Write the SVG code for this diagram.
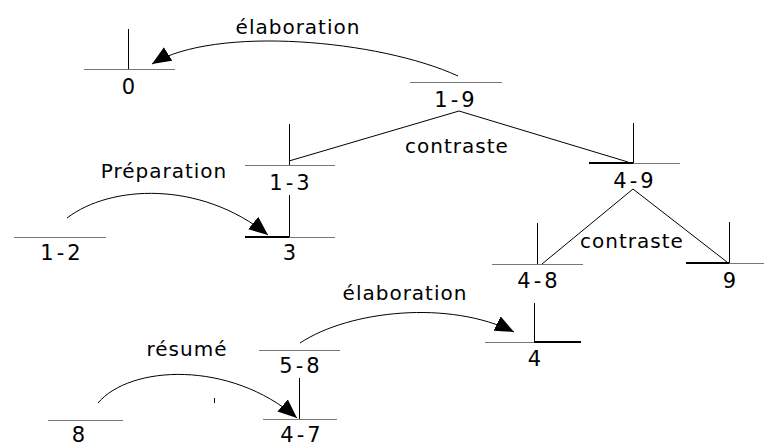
<svg xmlns="http://www.w3.org/2000/svg" width="764" height="443" viewBox="0 0 764 443">
<style>
text{font-family:"DejaVu Sans","Liberation Sans",sans-serif;font-size:20px;fill:#000;text-anchor:middle;letter-spacing:1px}
text.num{font-size:21px;letter-spacing:3px}
.h{stroke:#777;stroke-width:1.2;fill:none}
.hb{stroke:#000;stroke-width:2;fill:none}
.v{stroke:#000;stroke-width:1;fill:none}
.link{stroke:#000;stroke-width:1;fill:none}
.arc{stroke:#000;stroke-width:1;fill:none;marker-end:url(#ah)}
</style>
<defs>
<marker id="ah" viewBox="0 0 19 16" refX="19" refY="8" markerWidth="19" markerHeight="16" markerUnits="userSpaceOnUse" orient="auto">
<path d="M0,0 L19,8 L0,16 z" fill="#000"/>
</marker>
</defs>
<rect width="764" height="443" fill="#fff"/>
<g id="n0"><line class="h" x1="84" y1="69.5" x2="175" y2="69.5"/><line class="v" x1="128.5" y1="29" x2="128.5" y2="69"/><text class="num" x="130" y="94">0</text></g>
<g id="n1-9"><line class="h" x1="410" y1="82.5" x2="502" y2="82.5"/><text class="num" x="456" y="107">1-9</text></g>
<g id="n1-3"><line class="h" x1="245" y1="165.5" x2="335" y2="165.5"/><line class="v" x1="289.5" y1="124" x2="289.5" y2="165"/><text class="num" x="291" y="190">1-3</text></g>
<g id="n4-9"><line class="h" x1="589" y1="163.5" x2="680" y2="163.5"/><line class="hb" x1="589" y1="163" x2="633" y2="163"/><line class="v" x1="633.5" y1="123" x2="633.5" y2="163"/><text class="num" x="635" y="188">4-9</text></g>
<g id="n1-2"><line class="h" x1="14" y1="237.5" x2="106" y2="237.5"/><text class="num" x="62" y="260">1-2</text></g>
<g id="n3"><line class="h" x1="245" y1="237.5" x2="335" y2="237.5"/><line class="hb" x1="245" y1="237" x2="289" y2="237"/><line class="v" x1="289.5" y1="195" x2="289.5" y2="237"/><text class="num" x="291" y="260">3</text></g>
<g id="n4-8"><line class="h" x1="492" y1="264.5" x2="583" y2="264.5"/><line class="v" x1="537.5" y1="223" x2="537.5" y2="264"/><text class="num" x="539" y="288">4-8</text></g>
<g id="n9"><line class="h" x1="686" y1="263.5" x2="764" y2="263.5"/><line class="hb" x1="686" y1="263" x2="729" y2="263"/><line class="v" x1="729.5" y1="222" x2="729.5" y2="263"/><text class="num" x="731" y="288">9</text></g>
<g id="n4"><line class="h" x1="485" y1="342.5" x2="534" y2="342.5"/><line class="hb" x1="534" y1="342" x2="581" y2="342"/><line class="v" x1="534.5" y1="303" x2="534.5" y2="342"/><text class="num" x="536" y="366">4</text></g>
<g id="n5-8"><line class="h" x1="259" y1="350.5" x2="340" y2="350.5"/><text class="num" x="301" y="373">5-8</text></g>
<g id="n4-7"><line class="h" x1="263" y1="419.5" x2="337" y2="419.5"/><line class="v" x1="299.5" y1="378" x2="299.5" y2="419"/><text class="num" x="302" y="442">4-7</text></g>
<g id="n8"><line class="h" x1="48" y1="420.5" x2="123" y2="420.5"/><text class="num" x="80" y="442">8</text></g>
<g id="connectors">
<polyline class="link" points="289,161 459,111 628,162"/>
<polyline class="link" points="542,264 633,189 727,262"/>
<path class="arc" d="M458,76 C380,40 215,25 152,64"/>
<path class="arc" d="M67,218 C110,185 200,180 268,235"/>
<path class="arc" d="M98,403 C130,365 230,360 297,418"/>
<path class="arc" d="M300,343 C350,310 450,300 514,332"/>
<line class="v" x1="214.5" y1="398" x2="214.5" y2="403"/>
<text x="298" y="34">élaboration</text>
<text x="457" y="153">contraste</text>
<text x="164" y="178">Préparation</text>
<text x="632" y="248">contraste</text>
<text x="405" y="300">élaboration</text>
<text x="187" y="356">résumé</text>
</g>
</svg>
